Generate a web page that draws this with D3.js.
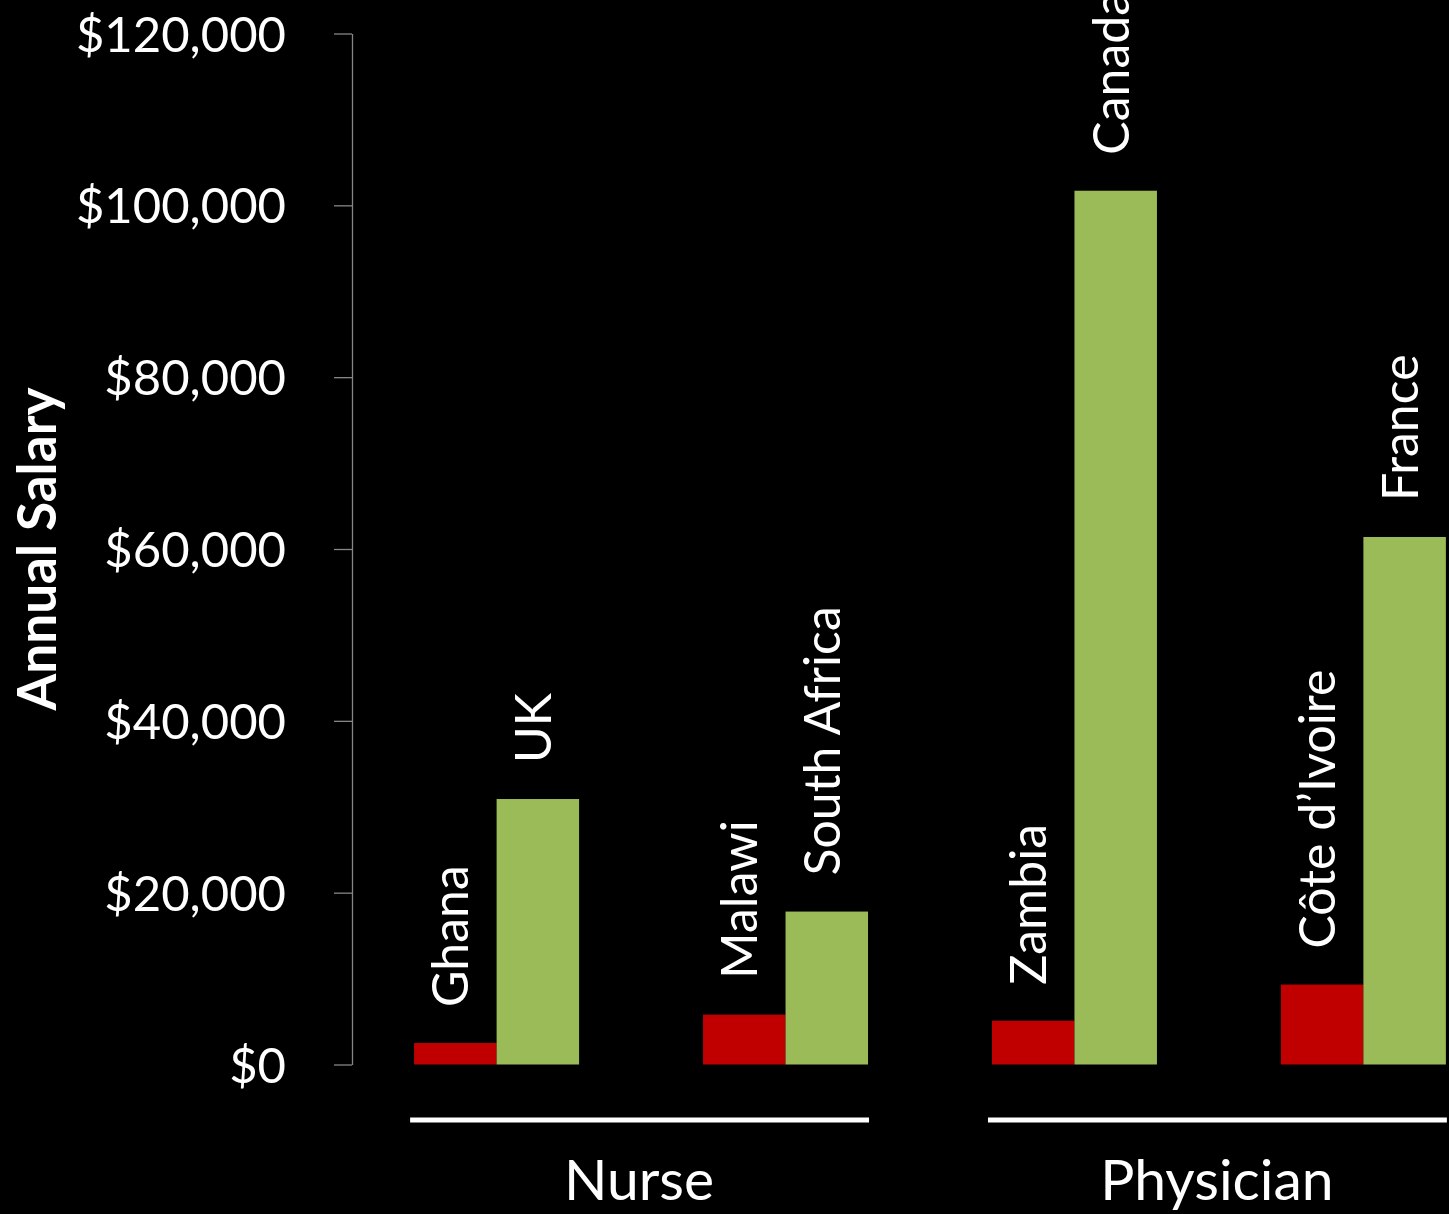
<!DOCTYPE html>
<html>
<head>
<meta charset="utf-8">
<script src="https://cdn.jsdelivr.net/npm/d3@7"></script>
<style>
  html, body { margin: 0; padding: 0; background: #000; }
  svg { display: block; }
  text { font-family: Lato, "Open Sans", sans-serif; fill: #fff; }
</style>
</head>
<body>
<svg id="chart" width="1449" height="1214"></svg>
<script>
// Annual salaries of health workers: source country vs. destination country
const professions = ["Nurse", "Nurse", "Physician", "Physician"];
const sourceCountries = ["Ghana", "Malawi", "Zambia", "Côte d’Ivoire"];
const destCountries = ["UK", "South Africa", "Canada", "France"];
const sourceSalary = [2500, 5800, 5100, 9300];
const destSalary = [30900, 17800, 101700, 61400];
const yTicks = [0, 20000, 40000, 60000, 80000, 100000, 120000];
const groupNames = ["Nurse", "Physician"];

const colors = { source: "#C00000", dest: "#9BBB59" };

const svg = d3.select("#chart");
const W = 1449, H = 1214;
svg.append("rect").attr("width", W).attr("height", H).attr("fill", "#000");

const plot = { left: 352, top: 33.5, bottom: 1064.5, step: 289 };

const pairs = sourceCountries.map((c, i) => ({
  key: i,
  profession: professions[i],
  bars: [
    { country: sourceCountries[i], value: sourceSalary[i], kind: "source" },
    { country: destCountries[i], value: destSalary[i], kind: "dest" }
  ]
}));

const x = d3.scaleBand()
  .domain(pairs.map(p => p.key))
  .range([plot.left, plot.left + plot.step * pairs.length])
  .paddingInner(0.429)
  .paddingOuter(0.215);

const xInner = d3.scaleBand()
  .domain(["source", "dest"])
  .range([0, x.bandwidth()]);

const y = d3.scaleLinear()
  .domain([0, 120000])
  .range([plot.bottom, plot.top]);

// y axis
const yAxis = svg.append("g")
  .attr("transform", `translate(${plot.left},0)`)
  .call(d3.axisLeft(y)
    .tickValues(yTicks)
    .tickSize(18)
    .tickSizeOuter(0)
    .tickPadding(48)
    .tickFormat(d => "$" + d3.format(",")(d)));
yAxis.selectAll("path, line").attr("stroke", "#868686").attr("stroke-width", 1.3);
yAxis.selectAll("text")
  .attr("fill", "#fff")
  .style("font-family", "Lato, sans-serif")
  .style("font-size", "49px")
  .attr("dy", "0.36em");

svg.append("text")
  .attr("transform", `translate(56,${(plot.top + plot.bottom) / 2}) rotate(-90)`)
  .attr("text-anchor", "middle")
  .style("font-size", "53px")
  .style("font-weight", "bold")
  .text("Annual Salary");

// bars
const pairG = svg.selectAll("g.pair")
  .data(pairs)
  .join("g")
  .attr("class", "pair")
  .attr("transform", d => `translate(${x(d.key)},0)`);

pairG.selectAll("rect")
  .data(d => d.bars)
  .join("rect")
  .attr("x", d => xInner(d.kind))
  .attr("y", d => y(d.value))
  .attr("width", xInner.bandwidth())
  .attr("height", d => y(0) - y(d.value))
  .attr("fill", d => colors[d.kind]);

// rotated country labels above each bar
pairG.selectAll("text.country")
  .data(d => d.bars)
  .join("text")
  .attr("class", "country")
  .attr("transform", d => `translate(${xInner(d.kind) + xInner.bandwidth() / 2 + 13},${y(d.value) - 36}) rotate(-90)`)
  .attr("text-anchor", "start")
  .style("font-size", "50px")
  .text(d => d.country);

// profession group brackets and names
const groups = groupNames.map(g => {
  const members = pairs.filter(p => p.profession === g);
  const x0 = d3.min(members, p => x(p.key));
  const x1 = d3.max(members, p => x(p.key) + x.bandwidth());
  return { name: g, x0, x1 };
});

svg.selectAll("line.group")
  .data(groups)
  .join("line")
  .attr("class", "group")
  .attr("x1", d => d.x0 - 4)
  .attr("x2", d => d.x1 + 1)
  .attr("y1", 1120)
  .attr("y2", 1120)
  .attr("stroke", "#fff")
  .attr("stroke-width", 5);

svg.selectAll("text.group")
  .data(groups)
  .join("text")
  .attr("class", "group")
  .attr("x", d => (d.x0 + d.x1) / 2 - 2)
  .attr("y", 1200)
  .attr("text-anchor", "middle")
  .style("font-size", "57px")
  .text(d => d.name);
</script>
</body>
</html>
